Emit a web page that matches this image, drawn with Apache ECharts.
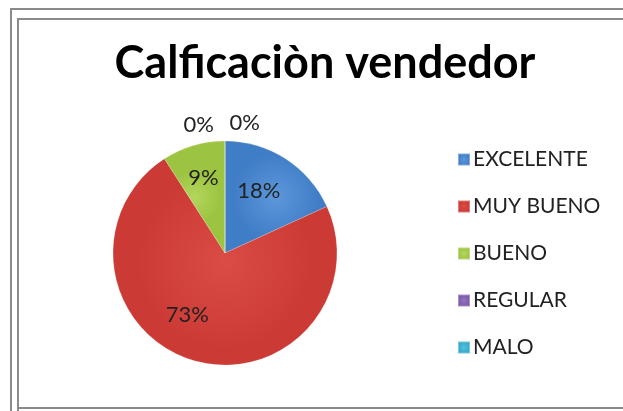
<!DOCTYPE html>
<html><head><meta charset="utf-8">
<script src="https://cdn.jsdelivr.net/npm/echarts@6/dist/echarts.min.js"></script>
<style>html,body{margin:0;padding:0;background:#fff}#c{width:623px;height:411px}</style>
</head><body><div id="c"></div>
<script>
var titleText = 'Calficaciòn vendedor';
var categories = ['EXCELENTE', 'MUY BUENO', 'BUENO', 'REGULAR', 'MALO'];
var values = [2, 8, 1, 0, 0];
var baseColors = ['#3F7DC6', '#CC3A35', '#9DC441', '#7B58A8', '#34A9C7'];
var lightColors = ['#5D97DB', '#DB4C47', '#B3D65C', '#9373BD', '#55C0DA'];

function grad(i){
  return {type:'radial', x:0.5, y:0.5, r:0.5, colorStops:[{offset:0,color:lightColors[i]},{offset:0.85,color:baseColors[i]},{offset:1,color:baseColors[i]}]};
}
var data = categories.map(function(n,i){
  var d = {name:n, value:values[i], itemStyle:{color:grad(i)}};
  if (values[i] === 0) {
    d.label = {position:'outside'};
    d.labelLine = {show:false};
  }
  return d;
});
var labelShift = [[2,-12],[-21,5],[-5,-18]];
var chart = echarts.init(document.getElementById('c'));
chart.setOption({
  animation:false,
  title:{text:titleText, left:320, top:36, textAlign:'center',
    textStyle:{fontFamily:'Lato', fontWeight:'bold', fontSize:45, color:'#000'}},
  legend:{orient:'vertical', left:452, top:144, itemWidth:12, itemHeight:12, itemGap:26,
    icon:'rect', textStyle:{fontFamily:'Lato', fontSize:21, color:'#222', padding:[0,0,0,-2]},
    data:categories},
  graphic:[
    {type:'polyline', shape:{points:[[11,411],[11,9],[623,9]]}, style:{stroke:'#8a8a8a', lineWidth:2, fill:null}, silent:true},
    {type:'polyline', shape:{points:[[18,411],[18,19],[623,19]]}, style:{stroke:'#8a8a8a', lineWidth:2, fill:null}, silent:true},
    {type:'line', shape:{x1:18,y1:408,x2:623,y2:408}, style:{stroke:'#8a8a8a', lineWidth:2}, silent:true}
  ],
  series:[{
    type:'pie', center:[225,253], radius:112, startAngle:90, clockwise:true,
    avoidLabelOverlap:false,
    itemStyle:{borderColor:'rgba(255,255,255,0.35)', borderWidth:0.5},
    label:{show:true, position:'inside', formatter:function(p){return Math.round(p.percent)+'%';},
      fontFamily:'Lato', fontSize:22, color:'#222'},
    labelLine:{show:false, length:6, length2:0},
    labelLayout:function(p){
      var i = p.dataIndex;
      if (i===3) return {dx:-6, dy:-10};
      if (i===4) return {dx:40, dy:-12};
      return {dx:labelShift[i][0], dy:labelShift[i][1]};
    },
    data:data
  }]
});
</script></body></html>
